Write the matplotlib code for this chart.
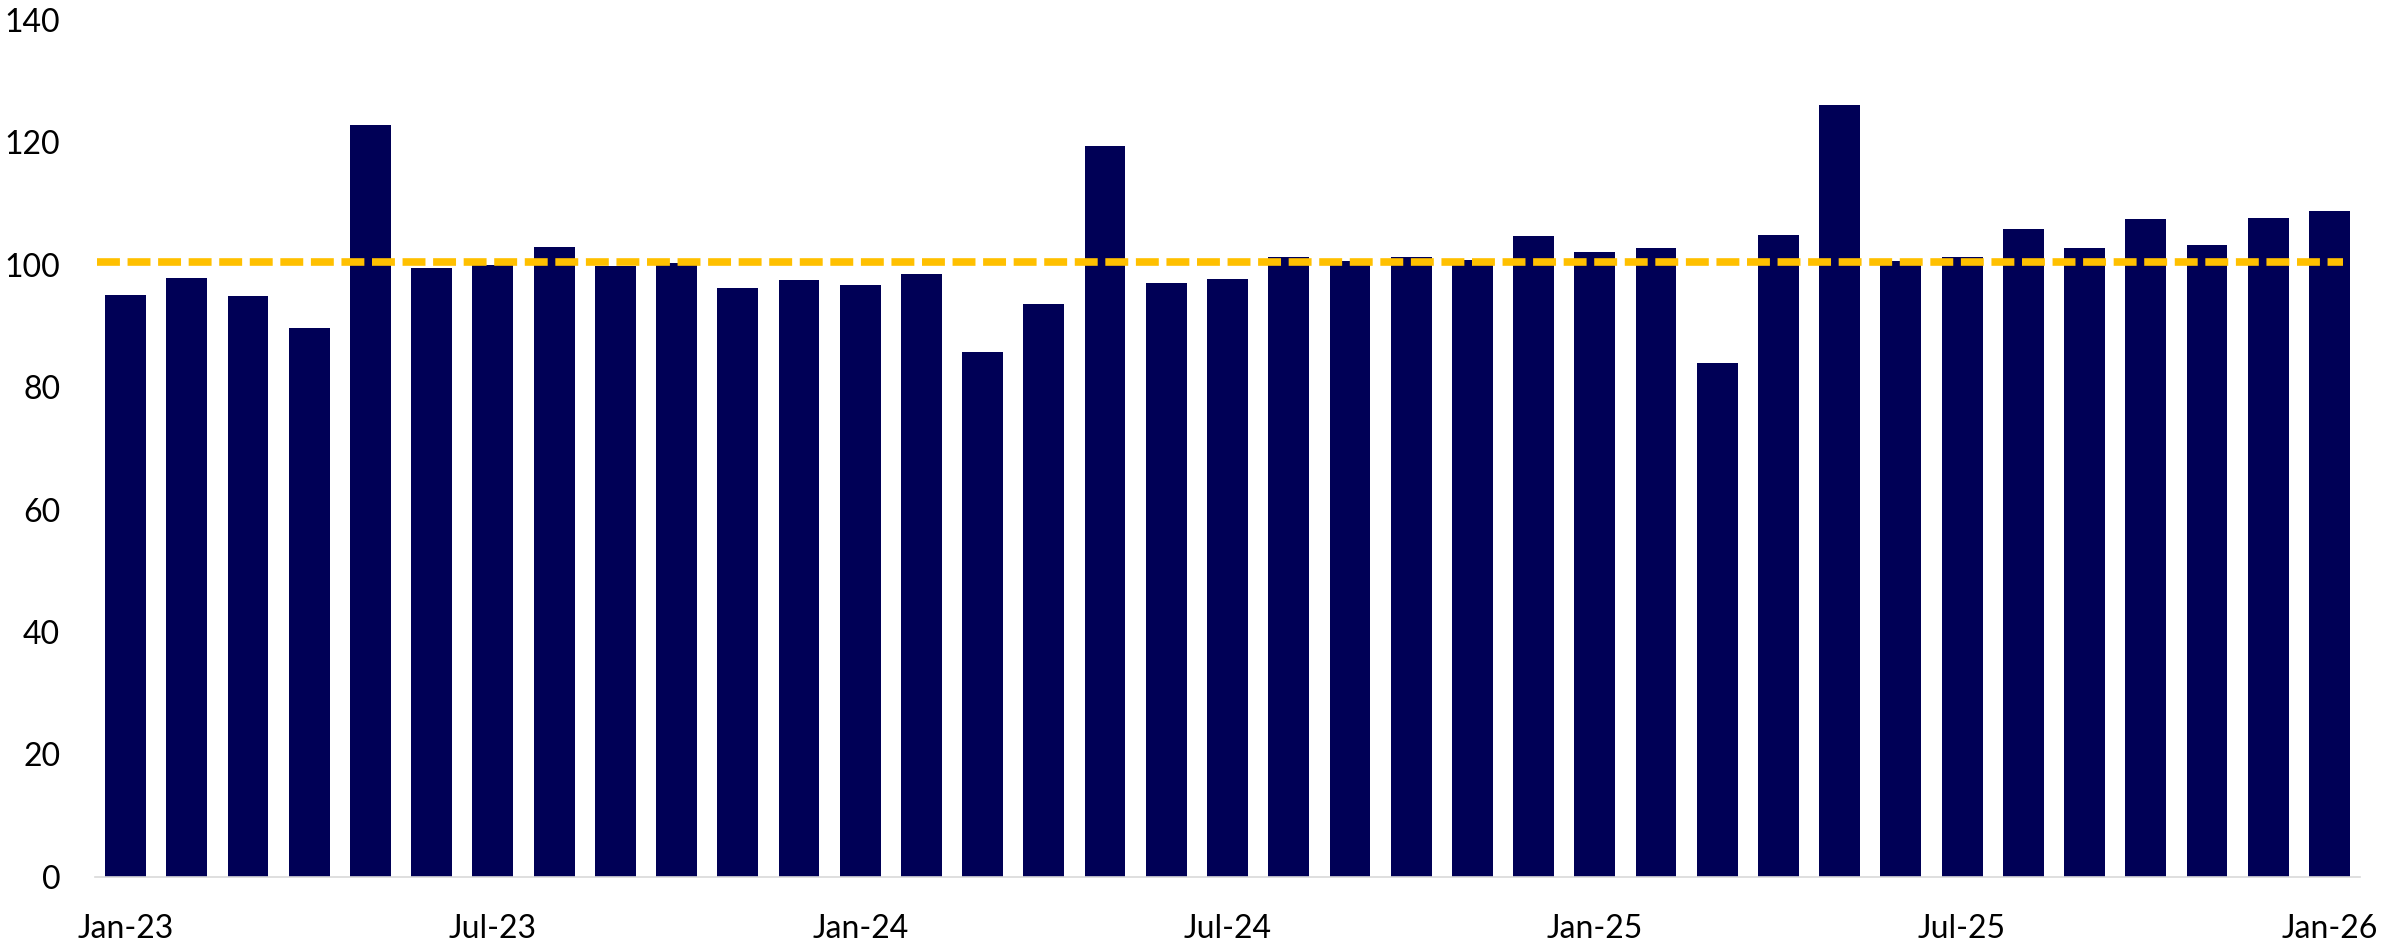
import matplotlib.pyplot as plt
import numpy as np

# monthly index values, Jan-23 .. Jan-26
months = ['Jan-23', 'Feb-23', 'Mar-23', 'Apr-23', 'May-23', 'Jun-23',
          'Jul-23', 'Aug-23', 'Sep-23', 'Oct-23', 'Nov-23', 'Dec-23',
          'Jan-24', 'Feb-24', 'Mar-24', 'Apr-24', 'May-24', 'Jun-24',
          'Jul-24', 'Aug-24', 'Sep-24', 'Oct-24', 'Nov-24', 'Dec-24',
          'Jan-25', 'Feb-25', 'Mar-25', 'Apr-25', 'May-25', 'Jun-25',
          'Jul-25', 'Aug-25', 'Sep-25', 'Oct-25', 'Nov-25', 'Dec-25',
          'Jan-26']
values = [95.1, 97.8, 94.9, 89.7, 122.7, 99.4, 99.9, 102.9, 99.7, 100.2, 96.2, 97.4,
          96.6, 98.5, 85.7, 93.6, 119.4, 97.0, 97.7, 101.2, 100.5, 101.2, 100.7, 104.6,
          102.0, 102.7, 84.0, 104.8, 126.0, 100.6, 101.2, 105.8, 102.7, 107.5, 103.2,
          107.6, 108.8]
reference_level = 100.4
yticks = [0, 20, 40, 60, 80, 100, 120, 140]

plt.rcParams['font.family'] = ['Lato', 'DejaVu Sans']

fig = plt.figure(figsize=(23.82, 9.43), dpi=100)
ax = fig.add_axes([95 / 2382, 0.070, (2360 - 95) / 2382, 0.9793 - 0.070])

x = np.arange(len(months))
ax.bar(x, values, width=0.667, color='#000056', zorder=2)

# dashed reference line
ax.plot([-0.47, 36.22], [reference_level, reference_level], color='#FFC000',
        linewidth=5.5, linestyle=(0, (3.0, 1.0)), zorder=3, solid_capstyle='butt',
        dash_capstyle='butt')

ax.set_xlim(-0.5, len(months) - 0.5)
ax.set_ylim(0, 140)
ax.set_yticks(yticks)
ax.set_yticklabels([str(v) for v in yticks])

ax.set_xticks(x[::6])
ax.set_xticklabels(months[::6])

for side in ['top', 'right', 'left']:
    ax.spines[side].set_visible(False)
ax.spines['bottom'].set_color('#D9D9D9')
ax.spines['bottom'].set_linewidth(1.2)

ax.tick_params(axis='both', length=0, labelsize=23, colors='black')
ax.tick_params(axis='y', pad=25)
ax.tick_params(axis='x', pad=27)

fig.savefig('out.png', dpi=100)
